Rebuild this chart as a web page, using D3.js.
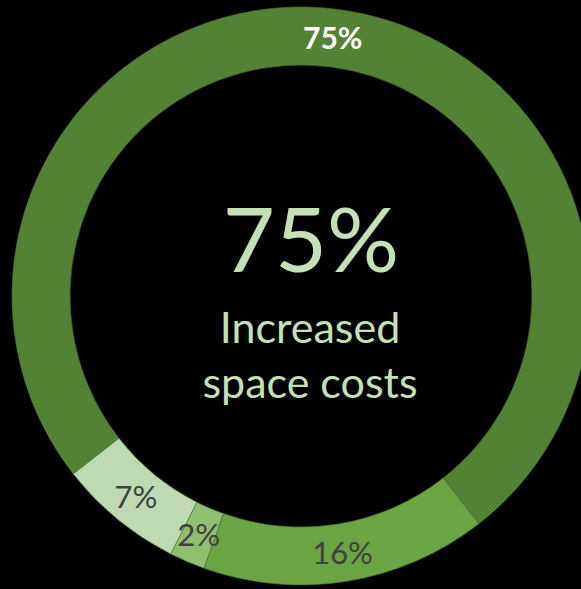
<!DOCTYPE html>
<html>
<head>
<meta charset="utf-8">
<script src="https://cdn.jsdelivr.net/npm/d3@7"></script>
<style>
  html, body { margin: 0; padding: 0; background: #000; }
  svg { display: block; }
</style>
</head>
<body>
<svg id="chart" width="581" height="589"></svg>
<script>
// Share of respondents per answer
const labels = ["75%", "16%", "2%", "7%"];
const values = [75, 16, 2, 7];
const sliceColors = ["#548235", "#6aa443", "#8fbf70", "#bfd9b3"];
const labelColors = ["#ffffff", "#404040", "#404040", "#404040"];

const headline = "75%";
const captionLines = ["Increased", "space costs"];

const width = 581, height = 589;
const cx = 301, cy = 296;
const outerR = 289, innerR = 231;
const firstSliceAngle = 232 * Math.PI / 180;

const svg = d3.select("#chart");
const g = svg.append("g").attr("transform", `translate(${cx},${cy})`);

const pie = d3.pie()
  .sort(null)
  .value(d => d.value)
  .startAngle(firstSliceAngle)
  .endAngle(firstSliceAngle + 2 * Math.PI);

const arc = d3.arc().innerRadius(innerR).outerRadius(outerR);

const data = values.map((v, i) => ({ value: v, label: labels[i], color: sliceColors[i], text: labelColors[i] }));
const arcs = pie(data);

g.selectAll("path.slice")
  .data(arcs)
  .join("path")
  .attr("class", "slice")
  .attr("d", arc)
  .attr("fill", d => d.data.color)
  .attr("stroke", "#4a6e33")
  .attr("stroke-width", 0.6);

const font = "Lato, 'Open Sans', sans-serif";

g.selectAll("text.slice-label")
  .data(arcs)
  .join("text")
  .attr("class", "slice-label")
  .attr("transform", d => `translate(${arc.centroid(d)})`)
  .attr("text-anchor", "middle")
  .attr("dy", "0.36em")
  .attr("font-family", font)
  .attr("font-size", d => d.index === 0 ? 30 : 31)
  .attr("font-weight", d => d.index === 0 ? 700 : 400)
  .attr("fill", d => d.data.text)
  .text(d => d.data.label);

// Centre headline and caption
svg.append("text")
  .attr("x", 311).attr("y", 272)
  .attr("text-anchor", "middle")
  .attr("font-family", font)
  .attr("font-size", 90)
  .attr("fill", "#c5e0b4")
  .text(headline);

svg.append("text")
  .attr("x", 310).attr("y", 343)
  .attr("text-anchor", "middle")
  .attr("font-family", font)
  .attr("font-size", 43)
  .attr("fill", "#c5e0b4")
  .selectAll("tspan")
  .data(captionLines)
  .join("tspan")
  .attr("x", 310)
  .attr("dy", (d, i) => i === 0 ? 0 : 55)
  .text(d => d);
</script>
</body>
</html>
